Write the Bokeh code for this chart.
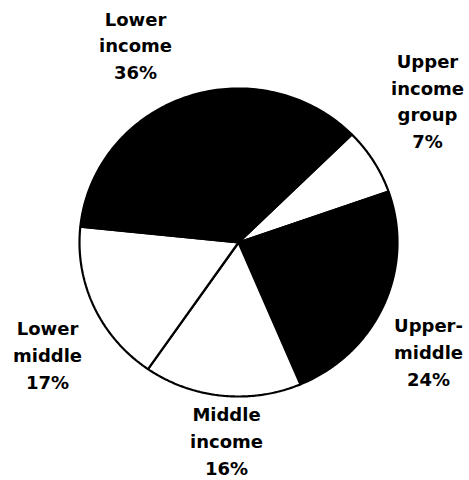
import numpy as np
from bokeh.plotting import figure
from bokeh.models import Range1d, ColumnDataSource
from bokeh.core.properties import value
from bokeh.embed import file_html
from bokeh.resources import INLINE

# Data (clockwise from the upper right)
categories = ["Upper\nincome\ngroup", "Upper-\nmiddle", "Middle\nincome", "Lower\nmiddle", "Lower\nincome"]
shares = [7, 24, 16, 17, 36]
fills = ["white", "black", "white", "white", "black"]

# Layout (page pixel coordinates; data y = -page y)
cx, cy = 238, -242
rx, ry = 159, 154
start_deg = 44.5
label_x = [427, 428, 226, 47, 135]
label_y = [-101, -352, -441, -355, -45.5]

W, H = 469, 480
p = figure(width=W, height=H, x_range=Range1d(0, W), y_range=Range1d(-H, 0),
           output_backend="svg", toolbar_location=None,
           x_axis_location=None, y_axis_location=None, min_border=0)
p.grid.visible = False
p.outline_line_color = None
p.background_fill_color = "white"

total = float(sum(shares))
xs, ys = [], []
a0 = np.deg2rad(start_deg)
for s in shares:
    a1 = a0 - 2 * np.pi * s / total
    t = np.linspace(a0, a1, 120)
    xs.append(np.concatenate([[cx], cx + rx * np.cos(t)]).tolist())
    ys.append(np.concatenate([[cy], cy + ry * np.sin(t)]).tolist())
    a0 = a1

src = ColumnDataSource(dict(xs=xs, ys=ys, fill=fills))
p.patches("xs", "ys", source=src, fill_color="fill", line_color="black", line_width=2.2)

labels = [f"{c}\n{s}%" for c, s in zip(categories, shares)]
lsrc = ColumnDataSource(dict(x=label_x, y=label_y, t=labels))
p.text("x", "y", text="t", source=lsrc, text_align="center", text_baseline="middle",
       text_font=value("DejaVu Sans"), text_font_style="bold", text_font_size="18px",
       text_line_height=1.265, text_color="black")

open("out.html", "w").write(file_html(p, INLINE))
